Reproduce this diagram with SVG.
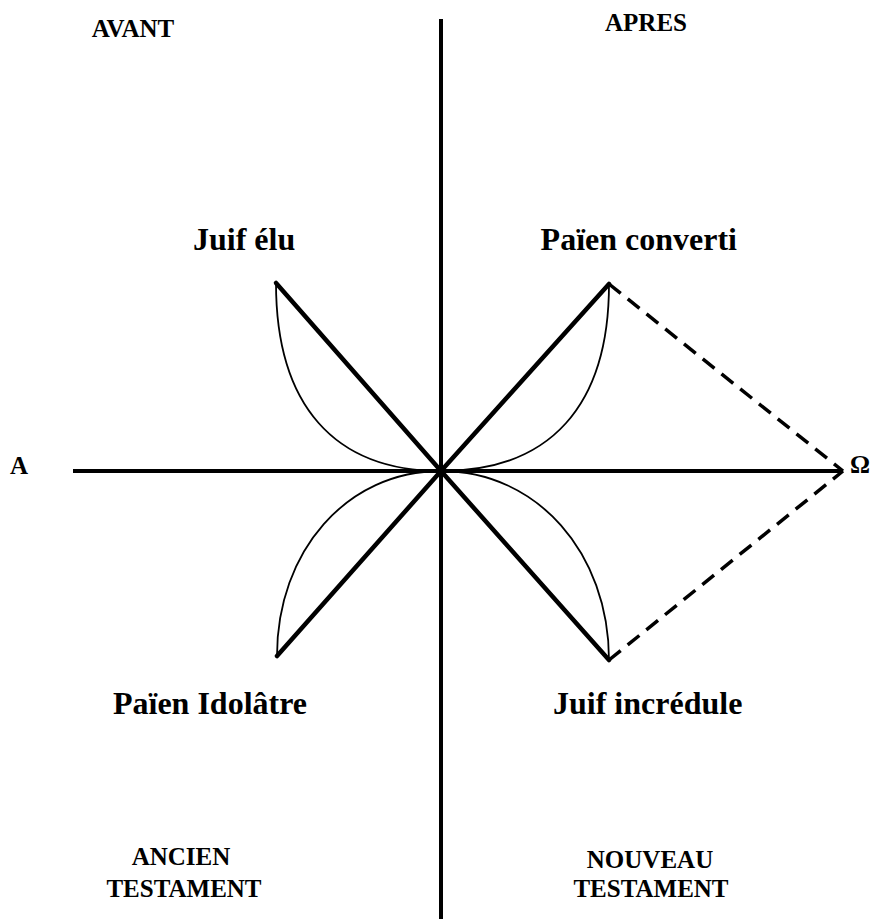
<svg xmlns="http://www.w3.org/2000/svg" width="871" height="919" viewBox="0 0 871 919">
<style>
.bg{fill:#fff}
.axis{stroke:#000;stroke-width:4;fill:none}
.diag{stroke:#000;stroke-width:4.5;fill:none;stroke-linecap:round}
.curve{stroke:#000;stroke-width:1.8;fill:none}
.dash{stroke:#000;stroke-width:3.5;fill:none;stroke-dasharray:15 9}
.hdr{font-family:"Liberation Serif","Times New Roman",serif;font-weight:bold;font-size:25px;fill:#000}
.lbl{font-family:"Liberation Serif","Times New Roman",serif;font-weight:bold;font-size:32px;fill:#000}
</style>
<rect class="bg" x="0" y="0" width="871" height="919"/>
<g id="connectors">
<line class="axis" x1="441" y1="19" x2="441" y2="919"/>
<line class="axis" x1="73" y1="471" x2="843" y2="471"/>
<line class="diag" x1="276" y1="283" x2="441" y2="471"/>
<line class="diag" x1="609" y1="284" x2="441" y2="471"/>
<line class="diag" x1="277" y1="656" x2="441" y2="471"/>
<line class="diag" x1="609" y1="660" x2="441" y2="471"/>
<path class="curve" d="M276,283 C276,405 334,471 441,471"/>
<path class="curve" d="M609,284 C609,406 550,471 441,471"/>
<path class="curve" d="M277,656 C277,551 347,471 441,471"/>
<path class="curve" d="M609,660 C609,553 537,471 441,471"/>
<line class="dash" x1="609" y1="284" x2="843" y2="471"/>
<line class="dash" x1="609" y1="660" x2="843" y2="471"/>
</g>
<g id="avant"><text class="hdr" x="133" y="37" text-anchor="middle">AVANT</text></g>
<g id="apres"><text class="hdr" x="646" y="31" text-anchor="middle">APRES</text></g>
<g id="ancien"><text class="hdr" x="181" y="865" text-anchor="middle">ANCIEN</text><text class="hdr" x="184" y="897" text-anchor="middle">TESTAMENT</text></g>
<g id="nouveau"><text class="hdr" x="650" y="868" text-anchor="middle">NOUVEAU</text><text class="hdr" x="651" y="897" text-anchor="middle">TESTAMENT</text></g>
<g id="alpha"><text class="hdr" x="10" y="474">A</text></g>
<g id="omega"><text class="hdr" x="850" y="473">Ω</text></g>
<g id="juif-elu"><text class="lbl" x="193" y="250">Juif élu</text></g>
<g id="paien-converti"><text class="lbl" x="737" y="250" text-anchor="end">Païen converti</text></g>
<g id="paien-idolatre"><text class="lbl" x="307" y="714" text-anchor="end">Païen Idolâtre</text></g>
<g id="juif-incredule"><text class="lbl" x="553" y="714">Juif incrédule</text></g>
</svg>
